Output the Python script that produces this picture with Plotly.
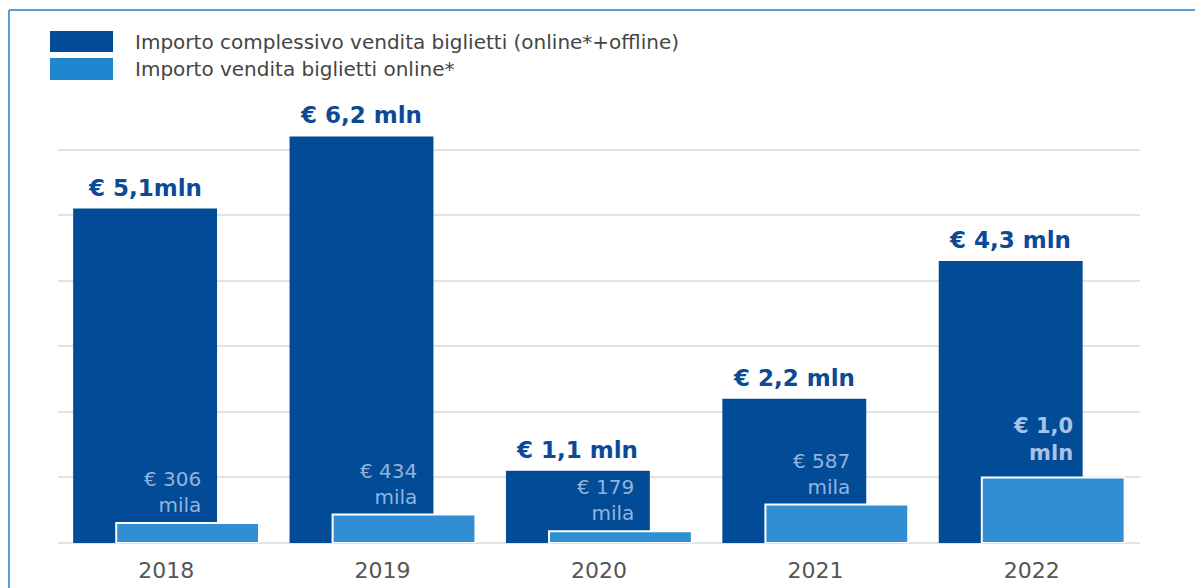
import plotly.graph_objects as go

years = ["2018", "2019", "2020", "2021", "2022"]
total_mln = [5.1, 6.2, 1.1, 2.2, 4.3]
online_mln = [0.306, 0.434, 0.179, 0.587, 1.0]
total_labels = ["€ 5,1mln", "€ 6,2 mln", "€ 1,1 mln", "€ 2,2 mln", "€ 4,3 mln"]
online_labels = ["€ 306<br>mila", "€ 434<br>mila", "€ 179<br>mila", "€ 587<br>mila", "<b>€ 1,0<br>mln</b>"]
series_names = ["Importo complessivo vendita biglietti (online*+offline)",
                "Importo vendita biglietti online*"]

DARK = "#024C97"
LIGHT = "#2F8FD2"
LEG_LIGHT = "#1F86D0"
FONT = "DejaVu Sans"

# page body has an 8px margin; plot area spans page x 58..1140, y 84..543
OFF = 8
W, H = 1203 - OFF, 588 - OFF
ML, MT = 58 - OFF, 84 - OFF
MR = W - (1140 - OFF)
MB = H - (543 - OFF)
PW = W - ML - MR
PH = H - MT - MB

fig = go.Figure()
fig.add_trace(go.Bar(x=years, y=total_mln, name=series_names[0], marker_color=DARK,
                     marker_line_width=0, width=0.665, offset=-0.43, showlegend=False))
fig.add_trace(go.Bar(x=years, y=online_mln, name=series_names[1], marker_color=LIGHT,
                     marker_line_color="white", marker_line_width=2,
                     width=0.66, offset=-0.231, showlegend=False))

ann = []
for i, (v, t) in enumerate(zip(total_mln, total_labels)):
    ann.append(dict(x=i - 0.1, y=v, xref="x", yref="y", text="<b>%s</b>" % t, showarrow=False,
                    xanchor="center", yanchor="bottom", yshift=6,
                    font=dict(family=FONT, size=23, color="#0B4A94")))
for i, (v, t) in enumerate(zip(online_mln, online_labels)):
    bold = t.startswith("<b>")
    ann.append(dict(x=i + (0.2 if bold else 0.17), y=v, xref="x", yref="y", text=t, showarrow=False,
                    xanchor="right", yanchor="bottom", yshift=(10 if bold else 4), align="right",
                    font=dict(family=FONT, size=20 if not bold else 21,
                              color="#A9C2E6" if bold else "#93B3DE")))

# manual legend (page pixel -> paper coords)
def px_x(p):
    return (p - 58) / PW

def px_y(p):
    return (543 - p) / PH

shapes = []
leg = [(series_names[0], DARK, 31, 52), (series_names[1], LEG_LIGHT, 58, 80)]
for name, col, y0, y1 in leg:
    shapes.append(dict(type="rect", xref="paper", yref="paper", x0=px_x(50), x1=px_x(113),
                       y0=px_y(y1), y1=px_y(y0), fillcolor=col, line_width=0))
    ann.append(dict(x=px_x(133), y=px_y((y0 + y1) / 2), xref="paper", yref="paper", text=name,
                    showarrow=False, xanchor="left", yanchor="middle",
                    font=dict(family=FONT, size=20, color="#454545")))

# outer frame
shapes.append(dict(type="line", xref="paper", yref="paper", x0=px_x(9), x1=px_x(1215),
                   y0=px_y(10), y1=px_y(10), line=dict(color="#5B9BD8", width=2)))
shapes.append(dict(type="line", xref="paper", yref="paper", x0=px_x(9), x1=px_x(9),
                   y0=px_y(10), y1=px_y(600), line=dict(color="#5B9BD8", width=2)))

fig.update_layout(
    width=W, height=H,
    margin=dict(l=ML, r=MR, t=MT, b=MB, pad=0, autoexpand=False),
    barmode="overlay",
    plot_bgcolor="white", paper_bgcolor="white",
    annotations=ann, shapes=shapes,
    font=dict(family=FONT),
)
fig.update_xaxes(type="category", range=[-0.5, 4.5], showgrid=False, zeroline=False,
                 showline=False, ticks="outside", ticklen=8, tickcolor="rgba(0,0,0,0)",
                 automargin=False,
                 tickfont=dict(family=FONT, size=22, color="#555555"))
fig.update_yaxes(range=[0, 7], dtick=1, showgrid=True, gridcolor="#E3E3E3", gridwidth=1.5,
                 zeroline=True, zerolinecolor="#E3E3E3", zerolinewidth=1.5, automargin=False,
                 showticklabels=False, ticks="")

fig.write_html("out.html")
